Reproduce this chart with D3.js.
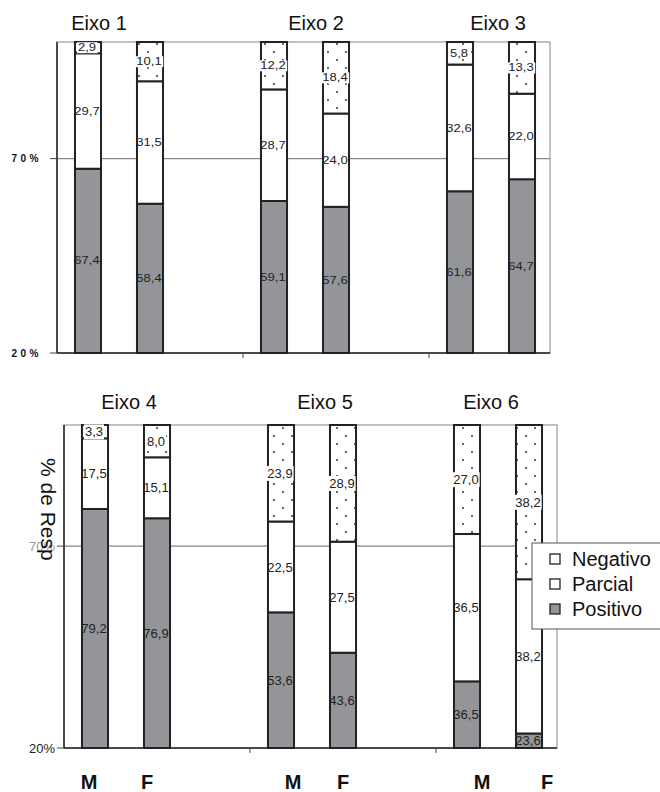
<!DOCTYPE html>
<html>
<head>
<meta charset="utf-8">
<script src="https://cdn.jsdelivr.net/npm/d3@7"></script>
<style>
  body { margin: 0; background: #fff; }
  svg { display: block; font-family: "Liberation Sans", Arial, sans-serif; }
</style>
</head>
<body>
<div id="chart"></div>
<script>
// categorias
var eixos = ["Eixo 1", "Eixo 2", "Eixo 3", "Eixo 4", "Eixo 5", "Eixo 6"];
var sexos = ["M", "F"];
var series = ["Positivo", "Parcial", "Negativo"];
var legendOrder = ["Negativo", "Parcial", "Positivo"];

// valores (% de respostas), ordem: E1 M, E1 F, E2 M, E2 F, ...
var positivo = [67.4, 58.4, 59.1, 57.6, 61.6, 64.7, 79.2, 76.9, 53.6, 43.6, 36.5, 23.6];
var parcial  = [29.7, 31.5, 28.7, 24.0, 32.6, 22.0, 17.5, 15.1, 22.5, 27.5, 36.5, 38.2];
var negativo = [2.9, 10.1, 12.2, 18.4, 5.8, 13.3, 3.3, 8.0, 23.9, 28.9, 27.0, 38.2];

var yTicks = [20, 70];
var yDomain = [20, 100];

window.onload = start;

function start() {
    var width = 660, height = 792;

    var svg = d3.select("#chart").append("svg")
        .attr("width", width)
        .attr("height", height);

    // dot pattern for "Negativo"
    var pat = svg.append("defs").append("pattern")
        .attr("id", "dots")
        .attr("patternUnits", "userSpaceOnUse")
        .attr("width", 18).attr("height", 16);
    pat.append("rect").attr("width", 18).attr("height", 16).attr("fill", "#fff");
    pat.append("circle").attr("cx", 4).attr("cy", 4).attr("r", 0.9).attr("fill", "#222");
    pat.append("circle").attr("cx", 13).attr("cy", 12).attr("r", 0.9).attr("fill", "#222");

    var fills = { Positivo: "#939598", Parcial: "#fff", Negativo: "url(#dots)" };

    // build rows
    var rows = [];
    eixos.forEach(function (e, i) {
        sexos.forEach(function (s, j) {
            var k = i * 2 + j;
            rows.push({ eixo: e, sexo: s, Positivo: positivo[k], Parcial: parcial[k], Negativo: negativo[k] });
        });
    });

    // layout of the two scanned panels (they are not perfectly aligned)
    var panels = [
        { eixos: eixos.slice(0, 3), left: 57, right: 550, top: 42, bottom: 353, titleY: 30,
          titleDx: [-20, 11, 7], style: "bold", xLabels: false, labelSize: 10, stretch: 1.3 },
        { eixos: eixos.slice(3, 6), left: 64, right: 557, top: 425, bottom: 748, titleY: 409,
          titleDx: [3, 13, -7], sexDx: [-6, -10, 12, 0, 15, 18], style: "plain", xLabels: true, labelSize: 13, stretch: 1 }
    ];

    panels.forEach(function (p) { drawPanel(p); });

    // y title
    svg.append("text")
        .attr("transform", "translate(41,458) rotate(90)")
        .attr("font-size", 21)
        .attr("fill", "#111")
        .text("% de Resp");

    // legend
    var lg = svg.append("g").attr("transform", "translate(532,543)");
    lg.append("rect").attr("width", 140).attr("height", 86)
        .attr("fill", "#fff").attr("stroke", "#555").attr("stroke-width", 1);
    legendOrder.forEach(function (k, i) {
        var gy = 16 + i * 25;
        lg.append("rect").attr("x", 18).attr("y", gy - 5).attr("width", 10).attr("height", 10)
            .attr("fill", k === "Negativo" ? "#fff" : fills[k])
            .attr("stroke", "#222").attr("stroke-width", 1.3);
        lg.append("text").attr("x", 40).attr("y", gy + 7)
            .attr("font-size", 20).attr("fill", "#111").text(k);
    });

    function drawPanel(p) {
        var g = svg.append("g");
        var slots = [];
        p.eixos.forEach(function (e) {
            slots.push(e + "|M", e + "|F", e + "|gap");
        });
        var step = 62;
        var x = d3.scaleBand()
            .domain(slots)
            .range([p.left, p.left + step * slots.length])
            .paddingInner(0.58)
            .paddingOuter(0.29);
        var y = d3.scaleLinear().domain(yDomain).range([p.bottom, p.top]).clamp(true);

        var data = rows.filter(function (r) { return p.eixos.indexOf(r.eixo) >= 0; });
        var stacked = d3.stack().keys(series)(data);

        // frame
        g.append("rect")
            .attr("x", p.left).attr("y", p.top)
            .attr("width", p.right - p.left).attr("height", p.bottom - p.top)
            .attr("fill", "#fff").attr("stroke", "#999").attr("stroke-width", 1.2);

        // gridline
        g.append("line")
            .attr("x1", p.left).attr("x2", p.right)
            .attr("y1", y(70)).attr("y2", y(70))
            .attr("stroke", "#888").attr("stroke-width", 1.2);

        // bars
        stacked.forEach(function (layer) {
            g.selectAll(null).data(layer).enter().append("rect")
                .attr("x", function (d) { return x(d.data.eixo + "|" + d.data.sexo); })
                .attr("width", x.bandwidth())
                .attr("y", function (d) { return y(d[1]); })
                .attr("height", function (d) { return y(d[0]) - y(d[1]); })
                .attr("fill", fills[layer.key])
                .attr("stroke", "#222").attr("stroke-width", 2);
        });

        // value labels
        stacked.forEach(function (layer) {
            layer.forEach(function (d) {
                var v = d.data[layer.key];
                var cx = x(d.data.eixo + "|" + d.data.sexo) + x.bandwidth() / 2 - 1;
                var cy = (y(Math.max(d[0], yDomain[0])) + y(d[1])) / 2;
                var t = g.append("text")
                    .attr("x", cx).attr("y", cy + p.labelSize * 0.36)
                    .attr("text-anchor", "middle")
                    .attr("font-size", p.labelSize)
                    .attr("fill", "#222")
                    .text(d3.format(".1f")(v).replace(".", ","));
                if (p.stretch !== 1) {
                    var len = t.node().getComputedTextLength();
                    t.attr("textLength", len * p.stretch).attr("lengthAdjust", "spacingAndGlyphs");
                }
                if (layer.key === "Negativo") {
                    var bb = t.node().getBBox();
                    g.insert("rect", function () { return t.node(); })
                        .attr("x", bb.x - 1).attr("y", bb.y)
                        .attr("width", bb.width + 2).attr("height", bb.height)
                        .attr("fill", "#fff");
                }
            });
        });

        // axes
        g.append("line").attr("x1", p.left).attr("x2", p.left)
            .attr("y1", p.top).attr("y2", p.bottom).attr("stroke", "#222").attr("stroke-width", 1.5);
        g.append("line").attr("x1", p.left).attr("x2", p.right)
            .attr("y1", p.bottom).attr("y2", p.bottom).attr("stroke", "#222").attr("stroke-width", 1.5);

        // category separators on the x axis
        p.eixos.slice(1).forEach(function (e) {
            var xs = x(e + "|M") - x.step() * x.paddingOuter();
            g.append("line").attr("x1", xs).attr("x2", xs)
                .attr("y1", p.bottom).attr("y2", p.bottom + 5)
                .attr("stroke", "#444").attr("stroke-width", 1);
        });

        // y ticks
        yTicks.forEach(function (t) {
            g.append("line").attr("x1", p.left - 7).attr("x2", p.left)
                .attr("y1", y(t)).attr("y2", y(t)).attr("stroke", "#444").attr("stroke-width", 1);
            var lbl = g.append("text")
                .attr("text-anchor", "end")
                .text(t + "%");
            if (p.style === "bold") {
                lbl.attr("x", p.left - 15).attr("y", y(t) + 3.5)
                    .attr("font-size", 10).attr("font-weight", "bold").attr("fill", "#111")
                    .attr("letter-spacing", 3.5);
            } else {
                lbl.attr("x", p.left - 9).attr("y", y(t) + 4.5)
                    .attr("font-size", 13).attr("fill", t === 70 ? "#999" : "#222");
            }
        });

        // titles
        p.eixos.forEach(function (e, i) {
            var cx = (x(e + "|M") + x(e + "|F") + x.bandwidth()) / 2;
            g.append("text")
                .attr("x", cx + p.titleDx[i]).attr("y", p.titleY)
                .attr("text-anchor", "middle")
                .attr("font-size", 20).attr("fill", "#111")
                .text(e);
        });

        // sex labels
        if (p.xLabels) {
            data.forEach(function (d, i) {
                g.append("text")
                    .attr("x", x(d.eixo + "|" + d.sexo) + x.bandwidth() / 2 + p.sexDx[i])
                    .attr("y", 789)
                    .attr("text-anchor", "middle")
                    .attr("font-size", 20).attr("font-weight", "bold").attr("fill", "#111")
                    .text(d.sexo);
            });
        }
    }
}
</script>
</body>
</html>
